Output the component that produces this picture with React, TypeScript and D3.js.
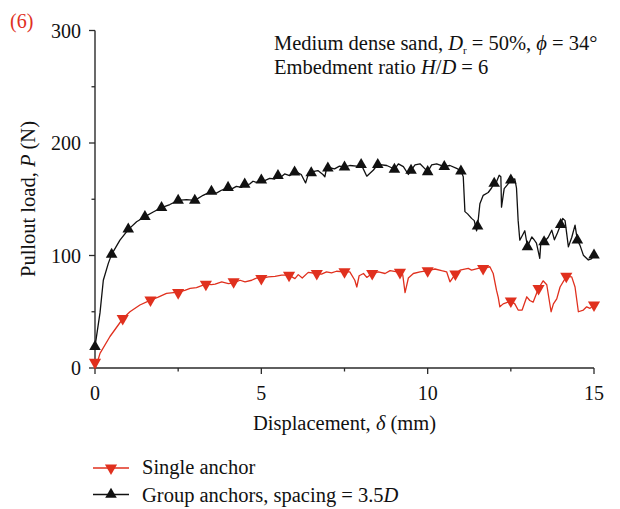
import React from "react";
import * as d3 from "d3";

const W = 620;
const H = 509;

// Axis ticks
const xTicks = [0, 5, 10, 15];
const xMinorTicks = [2.5, 7.5, 12.5];
const yTicks = [0, 100, 200, 300];
const yMinorTicks = [50, 150, 250];

// Single anchor: displacement (mm), pullout load (N)
const singleCurve: [number, number][] = [
  [0, 0], [0.06, 4], [0.15, 13], [0.45, 28], [0.84, 44], [1.05, 50], [1.35, 56],
  [1.67, 60.4], [1.9, 63], [2.15, 66.3], [2.5, 67.5], [2.7, 69], [2.86, 70.7],
  [3.05, 71.5], [3.33, 74.5], [3.5, 74.2], [3.61, 74.6], [3.81, 76.6], [4.01, 75],
  [4.17, 75.7], [4.36, 78], [4.51, 76.6], [4.71, 78], [4.86, 80], [5.0, 79.6],
  [5.21, 81], [5.41, 81.5], [5.61, 82.5], [5.83, 82.5], [6.01, 79.5], [6.11, 83],
  [6.23, 80], [6.41, 85], [6.67, 84], [6.81, 83.5], [6.96, 85.5], [7.11, 84.5],
  [7.26, 86], [7.5, 85.5], [7.66, 85.5], [7.81, 78], [7.87, 72], [7.94, 82],
  [8.07, 84], [8.17, 80.5], [8.33, 84], [8.52, 85.5], [8.72, 84], [8.87, 86.5],
  [9.17, 85], [9.25, 83], [9.32, 67], [9.42, 80], [9.57, 84], [9.77, 85.5],
  [10.0, 86.5], [10.22, 88], [10.42, 86.5], [10.57, 85.5], [10.67, 76.6],
  [10.83, 83.5], [10.97, 87], [11.22, 88.5], [11.32, 87], [11.52, 88.5],
  [11.67, 88.5], [11.87, 90], [11.97, 84], [12.07, 69], [12.12, 63], [12.17, 54.4],
  [12.27, 57], [12.5, 59.5], [12.62, 57], [12.72, 51.5], [12.84, 51.5],
  [12.98, 63.3], [13.07, 60], [13.17, 58.5], [13.33, 70.7], [13.47, 77.5],
  [13.58, 74], [13.71, 50], [13.78, 57], [13.88, 61.5], [13.98, 72], [14.17, 81.5],
  [14.33, 81], [14.43, 72], [14.53, 50], [14.68, 51.5], [14.78, 54.4], [14.88, 53],
  [15.0, 56],
];

// Group anchors, spacing = 3.5D: displacement (mm), pullout load (N)
const groupCurve: [number, number][] = [
  [0, 19], [0.15, 49], [0.25, 78], [0.4, 93], [0.5, 101], [0.75, 113.6], [1.0, 123],
  [1.25, 130], [1.5, 134.5], [1.75, 138.7], [2.0, 142.5], [2.25, 145.3], [2.5, 149],
  [2.75, 149.7], [3.0, 149], [3.25, 153.5], [3.5, 157], [3.65, 155.5], [3.8, 158],
  [4.0, 160.4], [4.1, 159], [4.25, 161.5], [4.4, 160.5], [4.5, 163.3], [4.65, 163.5],
  [4.75, 166], [4.85, 165], [5.0, 167], [5.1, 166.5], [5.25, 168.5], [5.4, 168],
  [5.5, 171], [5.6, 170], [5.7, 172.5], [5.85, 171], [6.0, 174], [6.1, 173.5],
  [6.2, 172], [6.33, 164.5], [6.4, 171], [6.5, 173.5], [6.55, 174.5], [6.7, 175.5],
  [6.85, 172], [6.91, 170], [6.95, 176], [7.05, 178], [7.2, 177], [7.35, 179.5],
  [7.5, 178.6], [7.66, 180], [7.87, 179.5], [8.0, 181], [8.17, 170.5], [8.37, 176],
  [8.5, 181], [8.77, 180], [8.92, 178], [9.0, 176.6], [9.12, 181.5], [9.27, 179],
  [9.42, 172], [9.5, 175.7], [9.62, 180.5], [9.77, 181.5], [9.92, 177], [10.0, 174.4],
  [10.12, 180.5], [10.27, 181.5], [10.5, 179], [10.67, 180], [10.87, 177.5],
  [11.0, 175], [11.07, 170], [11.12, 139], [11.2, 137], [11.32, 133], [11.4, 131],
  [11.47, 122], [11.5, 126], [11.57, 146], [11.67, 153.5], [11.82, 156], [11.92, 160],
  [12.0, 164], [12.07, 165.5], [12.15, 171.3], [12.2, 170], [12.22, 143], [12.3, 159.5],
  [12.4, 163], [12.5, 167], [12.62, 168], [12.67, 160], [12.72, 131], [12.77, 113.6],
  [12.85, 118], [12.92, 122], [13.0, 108], [13.13, 116.5], [13.2, 114], [13.27, 111],
  [13.37, 97.5], [13.4, 111], [13.5, 112], [13.62, 116], [13.73, 122.5], [13.81, 114],
  [13.9, 120], [14.0, 127.5], [14.06, 133], [14.13, 131], [14.23, 107.7], [14.33, 116],
  [14.43, 127], [14.5, 113.6], [14.58, 109], [14.68, 100.3], [14.83, 96], [14.92, 97],
  [15.0, 100],
];

// Symbol positions along each curve
const singleMarkerDisp = [0, 0.833, 1.667, 2.5, 3.333, 4.167, 5, 5.833, 6.667, 7.5, 8.333, 9.167, 10, 10.833, 11.667, 12.5, 13.333, 14.167, 15];
const singleMarkerLoad = [5, 44, 60.4, 67, 74.4, 76.6, 79.6, 82.5, 84, 85.5, 84, 85, 86.5, 83.5, 88.5, 59.5, 70.7, 81.5, 56];
const groupMarkerDisp = [0, 0.5, 1, 1.5, 2, 2.5, 3, 3.5, 4, 4.5, 5, 5.5, 6, 6.5, 7, 7.5, 8, 8.5, 9, 9.5, 10, 10.5, 11, 11.5, 12, 12.5, 13, 13.5, 14, 14.5, 15];
const groupMarkerLoad = [19, 101, 123.4, 134.5, 142.5, 149, 149, 157, 160.4, 163.3, 167, 171, 174, 173.5, 177.6, 178.6, 180.8, 180.8, 176.6, 175.7, 174.4, 179, 175, 126, 164, 167, 107.7, 112, 127.5, 113.6, 100.3];

const RED = "#e0301e";
const BLACK = "#111111";
const AXIS = "#2a2a2a";
const FONT = "'Liberation Serif', 'Times New Roman', serif";

export default function App() {
  const x = d3.scaleLinear().domain([0, 15]).range([95, 594]);
  const y = d3.scaleLinear().domain([0, 300]).range([368, 30.5]);
  const line = d3
    .line<[number, number]>()
    .x((d) => x(d[0]))
    .y((d) => y(d[1]));
  const triBlack = d3.symbol().type(d3.symbolTriangle).size(58)() as string;
  const triRed = d3.symbol().type(d3.symbolTriangle).size(64)() as string;

  const [x0, x1] = x.range();
  const [y0, y1] = y.range();

  return (
    <svg
      width={W}
      height={H}
      style={{ position: "absolute", left: 0, top: 0, background: "#fff" }}
      fontFamily={FONT}
    >
      {/* panel tag */}
      <text x={10} y={28} fontSize={20} fill={RED}>(6)</text>

      {/* axes */}
      <line x1={x0} x2={x0} y1={y0} y2={y1} stroke={AXIS} strokeWidth={1.4} />
      <line x1={x0} x2={x1} y1={y0} y2={y0} stroke={AXIS} strokeWidth={1.4} />
      {yTicks.map((t) => (
        <g key={"yt" + t}>
          <line x1={x0 - 6} x2={x0} y1={y(t)} y2={y(t)} stroke={AXIS} strokeWidth={1.3} />
          <text x={x0 - 14} y={y(t)} dy="0.35em" textAnchor="end" fontSize={20} fill="#111">{t}</text>
        </g>
      ))}
      {yMinorTicks.map((t) => (
        <line key={"ym" + t} x1={x0 - 3.5} x2={x0} y1={y(t)} y2={y(t)} stroke={AXIS} strokeWidth={1.3} />
      ))}
      {xTicks.map((t) => (
        <g key={"xt" + t}>
          <line x1={x(t)} x2={x(t)} y1={y0} y2={y0 + 6} stroke={AXIS} strokeWidth={1.3} />
          <text x={x(t)} y={400} textAnchor="middle" fontSize={20} fill="#111">{t}</text>
        </g>
      ))}
      {xMinorTicks.map((t) => (
        <line key={"xm" + t} x1={x(t)} x2={x(t)} y1={y0} y2={y0 + 3.5} stroke={AXIS} strokeWidth={1.3} />
      ))}

      {/* axis titles */}
      <text x={x((0 + 15) / 2)} y={430} textAnchor="middle" fontSize={20.5} fill="#111">
        Displacement, <tspan fontStyle="italic">δ</tspan> (mm)
      </text>
      <text transform="translate(35,199) rotate(-90)" textAnchor="middle" fontSize={20.5} fill="#111">
        Pullout load, <tspan fontStyle="italic">P</tspan> (N)
      </text>

      {/* curves */}
      <path d={line(singleCurve) ?? ""} fill="none" stroke={RED} strokeWidth={1.3} strokeLinejoin="round" />
      <path d={line(groupCurve) ?? ""} fill="none" stroke={BLACK} strokeWidth={1.3} strokeLinejoin="round" />
      {singleMarkerDisp.map((d, i) => (
        <path key={"sm" + i} d={triRed} fill={RED} transform={`translate(${x(d)},${y(singleMarkerLoad[i])}) rotate(180)`} />
      ))}
      {groupMarkerDisp.map((d, i) => (
        <path key={"gm" + i} d={triBlack} fill={BLACK} transform={`translate(${x(d)},${y(groupMarkerLoad[i])})`} />
      ))}

      {/* annotation */}
      <text x={274} y={50} fontSize={20.5} fill="#111">
        Medium dense sand, <tspan fontStyle="italic">D</tspan>
        <tspan fontSize={11} dy={3.5}>r</tspan>
        <tspan dy={-3.5}> = 50%, </tspan>
        <tspan fontStyle="italic">ϕ</tspan> = 34°
      </text>
      <text x={274} y={74} fontSize={20.5} fill="#111">
        Embedment ratio <tspan fontStyle="italic">H</tspan>/<tspan fontStyle="italic">D</tspan> = 6
      </text>

      {/* legend */}
      <line x1={93} x2={129} y1={468} y2={468} stroke={RED} strokeWidth={1.3} />
      <path d={triRed} fill={RED} transform={`translate(111,468) rotate(180)`} />
      <text x={142} y={473.5} fontSize={20.5} fill="#111">Single anchor</text>
      <line x1={93} x2={129} y1={494.5} y2={494.5} stroke={BLACK} strokeWidth={1.3} />
      <path d={triBlack} fill={BLACK} transform={`translate(111,494.5)`} />
      <text x={142} y={501.5} fontSize={20.5} fill="#111">
        Group anchors, spacing = 3.5<tspan fontStyle="italic">D</tspan>
      </text>
    </svg>
  );
}
